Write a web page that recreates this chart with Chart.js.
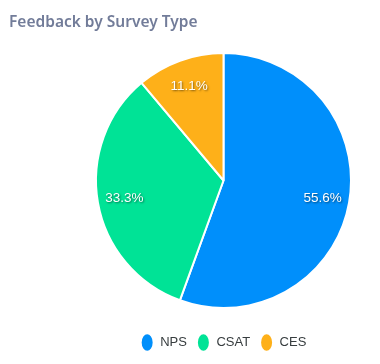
<!DOCTYPE html>
<html>
<head>
<meta charset="utf-8">
<script src="https://cdn.jsdelivr.net/npm/chart.js@4"></script>
<style>
  html, body { margin: 0; padding: 0; background: #fff; }
  #wrap { position: relative; width: 380px; height: 364px; }
  #title {
    position: absolute; left: 9px; top: 10px;
    font: 600 15.5px "Noto Sans", sans-serif; color: #727c99;
  }
</style>
</head>
<body>
<div id="wrap">
  <canvas id="chart" width="380" height="364"></canvas>
  <div id="title">Feedback by Survey Type</div>
</div>
<script>
// survey types and how many responses each got
const surveyTypes = ["NPS", "CSAT", "CES"];
const responseCounts = [5, 3, 1];
const sliceColors = ["#008FFB", "#00E396", "#FEB019"];

// percentage labels drawn on the slices
const sliceLabels = {
  id: "sliceLabels",
  afterDatasetsDraw(chart) {
    const ctx = chart.ctx;
    const meta = chart.getDatasetMeta(0);
    const total = responseCounts.reduce((a, b) => a + b, 0);
    ctx.save();
    ctx.font = "13.5px 'Liberation Sans', Arial, sans-serif";
    ctx.fillStyle = "#fff";
    ctx.textAlign = "center";
    ctx.textBaseline = "middle";
    ctx.shadowColor = "rgba(0,0,0,0.5)";
    ctx.shadowBlur = 2;
    ctx.shadowOffsetX = 1;
    ctx.shadowOffsetY = 1;
    meta.data.forEach((arc, i) => {
      const p = arc.getProps(["x", "y", "startAngle", "endAngle", "outerRadius"], true);
      const mid = (p.startAngle + p.endAngle) / 2;
      const r = p.outerRadius * 0.79;
      const pct = (responseCounts[i] / total * 100).toFixed(1) + "%";
      ctx.fillText(pct, p.x + Math.cos(mid) * r, p.y + Math.sin(mid) * r);
    });
    ctx.restore();
  }
};

new Chart(document.getElementById("chart"), {
  type: "pie",
  data: {
    labels: surveyTypes,
    datasets: [{
      data: responseCounts,
      backgroundColor: sliceColors,
      borderColor: "#fff",
      borderWidth: 2
    }]
  },
  options: {
    responsive: false,
    animation: false,
    layout: { padding: { top: 35, left: 95, right: 28, bottom: 5 } },
    plugins: {
      legend: {
        position: "bottom",
        labels: {
          usePointStyle: true,
          pointStyle: "circle",
          pointStyleWidth: 13,
          boxHeight: 13,
          padding: 10,
          color: "#373d3f",
          font: { size: 13, family: "'Liberation Sans', Arial, sans-serif" }
        }
      },
      tooltip: { enabled: false }
    }
  },
  plugins: [sliceLabels]
});
</script>
</body>
</html>
